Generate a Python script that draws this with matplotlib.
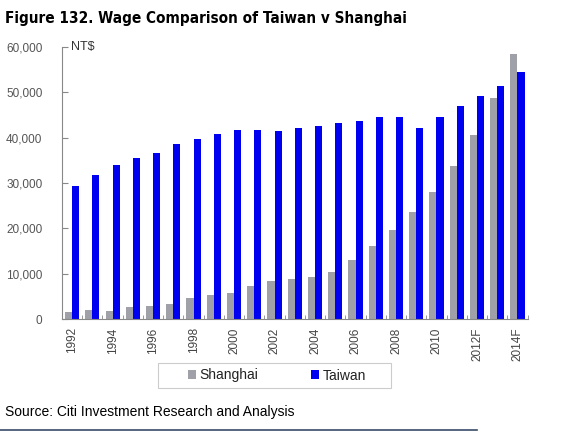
import numpy as np
import matplotlib
matplotlib.use("Agg")
import matplotlib.pyplot as plt
from matplotlib.ticker import FuncFormatter, FixedLocator

plt.rcParams["font.family"] = ["Liberation Sans", "DejaVu Sans"]

years = ["1992", "1993", "1994", "1995", "1996", "1997", "1998", "1999",
         "2000", "2001", "2002", "2003", "2004", "2005", "2006", "2007",
         "2008", "2009", "2010", "2011", "2012F", "2013F", "2014F"]
shanghai = [1500, 2000, 1800, 2600, 2900, 3400, 4600, 5400, 5700, 7300, 8400,
            8800, 9300, 10300, 13000, 16200, 19600, 23600, 28000, 33800,
            40700, 48700, 58400]
taiwan = [29400, 31800, 33900, 35500, 36700, 38600, 39800, 40900, 41800,
          41800, 41500, 42200, 42600, 43300, 43600, 44500, 44500, 42200,
          44500, 46900, 49200, 51500, 54400]

GREY = "#a0a0a8"
BLUE = "#0000f0"
AXC = "#888888"
W, H = 582, 444

fig = plt.figure(figsize=(5.82, 4.44), dpi=100)
ax = fig.add_axes([0.1065, 0.2815, 0.80, 0.6125])

x = np.arange(len(years))
w = 0.35
ax.bar(x - w / 2, shanghai, w, color=GREY, label="Shanghai")
ax.bar(x + w / 2, taiwan, w, color=BLUE, label="Taiwan")

ax.set_xlim(-0.5, len(years) - 0.5)
ax.set_ylim(0, 60000)
ax.set_yticks(np.arange(0, 60001, 10000))
ax.yaxis.set_major_formatter(FuncFormatter(lambda v, p: f"{int(v):,}"))

ax.set_xticks(x[::2])
ax.set_xticklabels(years[::2], rotation=90, fontsize=8.5, color="#444444")
ax.xaxis.set_minor_locator(FixedLocator(np.arange(-0.5, len(years), 1)))
ax.tick_params(axis="x", which="major", length=0, pad=6)
ax.tick_params(axis="x", which="minor", direction="in", length=3, color=AXC)
ax.tick_params(axis="y", direction="in", length=4, color=AXC,
               labelsize=8.5, labelcolor="#555555", pad=14)

for s in ("top", "right"):
    ax.spines[s].set_visible(False)
for s in ("left", "bottom"):
    ax.spines[s].set_color(AXC)
    ax.spines[s].set_linewidth(0.8)

ax.text(0.02, 1.0, "NT$", transform=ax.transAxes, fontsize=9,
        color="#333333", va="center", ha="left")

# legend box drawn separately so its size matches the original
fig.add_artist(plt.Rectangle((158 / W, 1 - 388 / H), 233 / W, 25 / H,
                             transform=fig.transFigure, facecolor="white",
                             edgecolor="#cccccc", linewidth=0.8))
leg = fig.legend(loc="center", bbox_to_anchor=(277 / W, 1 - 375.5 / H),
                 ncol=2, fontsize=10, frameon=False,
                 handlelength=0.6, handleheight=0.6, handletextpad=0.25,
                 columnspacing=3.8)
for t in leg.get_texts():
    t.set_color("#222222")

fig.text(0.009, 1 - 19 / H, "Figure 132. Wage Comparison of Taiwan v Shanghai",
         fontsize=11, fontweight="bold", va="center", ha="left",
         family=["DejaVu Sans"], fontstretch="condensed")
fig.text(0.009, 1 - 412 / H, "Source: Citi Investment Research and Analysis",
         fontsize=10, va="center", ha="left")
fig.add_artist(plt.Line2D([0, 477 / W], [1 - 430 / H] * 2,
                          color="#3a4a68", linewidth=1.2))

fig.savefig("out.png", dpi=100)
